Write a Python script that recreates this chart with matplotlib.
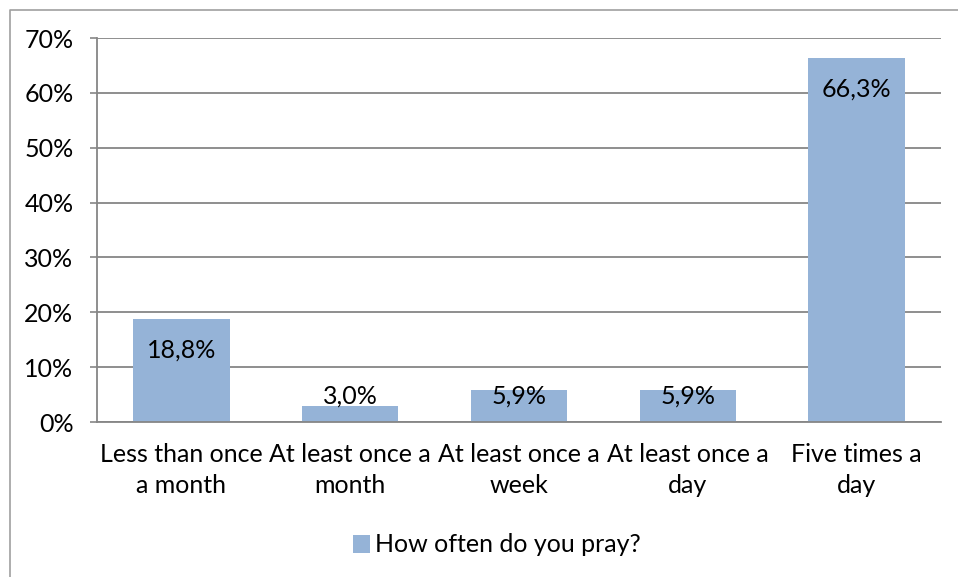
import matplotlib
matplotlib.use("Agg")
import matplotlib.pyplot as plt
from matplotlib.lines import Line2D
from matplotlib.patches import Patch
from matplotlib.ticker import FuncFormatter

categories = ["Less than once\na month", "At least once a\nmonth", "At least once a\nweek",
              "At least once a\nday", "Five times a\nday"]
values = [18.8, 3.0, 5.9, 5.9, 66.3]
value_labels = ["18,8%", "3,0%", "5,9%", "5,9%", "66,3%"]
series_name = "How often do you pray?"
yticks = [0, 10, 20, 30, 40, 50, 60, 70]

FONT = "Lato"
FS = 18
BAR = "#95B3D7"
GRID = "#868686"

plt.rcParams["font.family"] = [FONT, "DejaVu Sans"]

fig = plt.figure(figsize=(9.58, 5.77), dpi=100)
ax = fig.add_axes([97 / 958, 1 - 422 / 577, (941 - 97) / 958, (422 - 38) / 577])

x = list(range(len(categories)))
ax.bar(x, values, width=0.57, color=BAR, zorder=3)
ax.set_xlim(-0.5, len(categories) - 0.5)
ax.set_ylim(0, 70)
ax.set_yticks(yticks)
ax.yaxis.set_major_formatter(FuncFormatter(lambda v, p: f"{v:.0f}%"))
ax.set_xticks(x)
ax.set_xticklabels(categories, fontsize=FS, linespacing=1.45)
ax.tick_params(axis="x", length=0, pad=15)
ax.tick_params(axis="y", length=5, width=1.2, color=GRID, pad=12, labelsize=FS)
ax.yaxis.grid(True, color=GRID, linewidth=1.3, zorder=0)
for s in ["top", "right"]:
    ax.spines[s].set_visible(False)
for s in ["left", "bottom"]:
    ax.spines[s].set_color(GRID)
    ax.spines[s].set_linewidth(1.3)
ax.spines["bottom"].set_zorder(4)

for xi, v, lab in zip(x, values, value_labels):
    ty = max(v - 5.65, 4.74)
    ax.text(xi, ty, lab, ha="center", va="center", fontsize=FS, color="black", zorder=5)

handle = Patch(facecolor=BAR, edgecolor="none")
fig.legend([handle], [series_name], loc="center", bbox_to_anchor=(497 / 958, 1 - 545 / 577),
           frameon=False, fontsize=FS, handlelength=0.7, handleheight=0.7, handletextpad=0.2,
           borderpad=0)

border = Line2D([9.5 / 958, 9.5 / 958, 1.0], [0.0, 1 - 9.5 / 577, 1 - 9.5 / 577],
                transform=fig.transFigure, color="#A0A0A0", linewidth=1.2)
fig.add_artist(border)

fig.savefig("out.png", dpi=100, facecolor="white")
